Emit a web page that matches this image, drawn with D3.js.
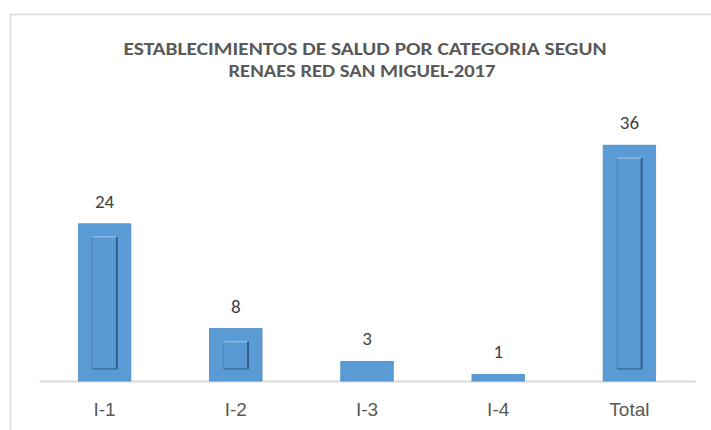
<!DOCTYPE html>
<html>
<head>
<meta charset="utf-8">
<script src="https://cdn.jsdelivr.net/npm/d3@7"></script>
<style>
  body { margin: 0; background: #fff; }
  svg { display: block; font-family: Carlito, Lato, "Open Sans", sans-serif; }
</style>
</head>
<body>
<div id="chart"></div>
<script>
// data
var categories = ["I-1", "I-2", "I-3", "I-4", "Total"];
var values = [24, 8, 3, 1, 36];
var titleLines = ["ESTABLECIMIENTOS DE SALUD POR CATEGORIA SEGUN", "RENAES RED SAN MIGUEL-2017"];

var w = 711, h = 430;
var barColor = "#5b9bd5";
var gridColor = "#d9d9d9";

var svg = d3.select("#chart").append("svg").attr("width", w).attr("height", h);

// chart frame (right edge is off-canvas)
svg.append("rect")
   .attr("x", 10.5).attr("y", 14.5)
   .attr("width", 740).attr("height", 440)
   .attr("fill", "none").attr("stroke", gridColor).attr("stroke-width", 1.5);

// title
svg.selectAll(".title").data(titleLines).enter()
   .append("text")
   .attr("class", "title")
   .attr("x", (d, i) => i === 0 ? 365 : 362)
   .attr("y", (d, i) => 55 + i * 21.5)
   .attr("text-anchor", "middle")
   .attr("fill", "#595959")
   .style("font-size", "18px")
   .style("font-weight", "bold")
   .attr("textLength", (d, i) => i === 0 ? 483 : 267)
   .attr("lengthAdjust", "spacingAndGlyphs")
   .text(d => d);

var x = d3.scaleBand().domain(categories).range([39, 695]).paddingInner(0.6).paddingOuter(0.3);
var y = d3.scaleLinear().domain([0, 40]).range([381, 119]);

// axis
var axis = svg.append("g")
   .attr("transform", "translate(0,381)")
   .call(d3.axisBottom(x).tickSize(0).tickSizeOuter(0).tickPadding(22));
axis.select(".domain").attr("stroke", gridColor).attr("stroke-width", 2);
axis.selectAll("text").attr("fill", "#595959").style("font-size", "19px").style("font-family", null);

// bars
var bars = svg.selectAll(".bar").data(values).enter()
   .append("g").attr("class", "bar");

bars.append("rect")
    .attr("x", (d, i) => x(categories[i]))
    .attr("y", d => y(d))
    .attr("width", x.bandwidth())
    .attr("height", d => y(0) - y(d))
    .attr("fill", barColor)
    .attr("stroke", "#4d8cc6")
    .attr("stroke-width", 0.8);

// bevel inner panel
var insetX = 14, insetY = 13;
bars.filter(d => y(0) - y(d) > insetY * 2 + 4).each(function(d) {
    var idx = values.indexOf(d);
    var g = d3.select(this);
    var x0 = x(categories[idx]) + insetX, x1 = x(categories[idx]) + x.bandwidth() - insetX;
    var y0 = y(d) + insetY, y1 = y(0) - insetY + 1;
    g.append("rect").attr("x", x0).attr("y", y0).attr("width", x1 - x0).attr("height", y1 - y0)
     .attr("fill", "#5a99d2");
    g.append("line").attr("x1", x0).attr("x2", x1).attr("y1", y0).attr("y2", y0)
     .attr("stroke", "#8bb9e4").attr("stroke-width", 1.5);
    g.append("line").attr("x1", x0).attr("x2", x0).attr("y1", y0).attr("y2", y1)
     .attr("stroke", "#4f88bd").attr("stroke-width", 1.2);
    g.append("line").attr("x1", x1).attr("x2", x1).attr("y1", y0).attr("y2", y1)
     .attr("stroke", "#2f5f8c").attr("stroke-width", 2);
    g.append("line").attr("x1", x0).attr("x2", x1).attr("y1", y1).attr("y2", y1)
     .attr("stroke", "#3c6f9e").attr("stroke-width", 1.5);
});

// data labels
svg.selectAll(".label").data(values).enter()
   .append("text")
   .attr("class", "label")
   .attr("x", (d, i) => x(categories[i]) + x.bandwidth() / 2)
   .attr("y", d => y(d) - 16)
   .attr("text-anchor", "middle")
   .attr("fill", "#404040")
   .style("font-size", "19px")
   .text(d => d);
</script>
</body>
</html>
